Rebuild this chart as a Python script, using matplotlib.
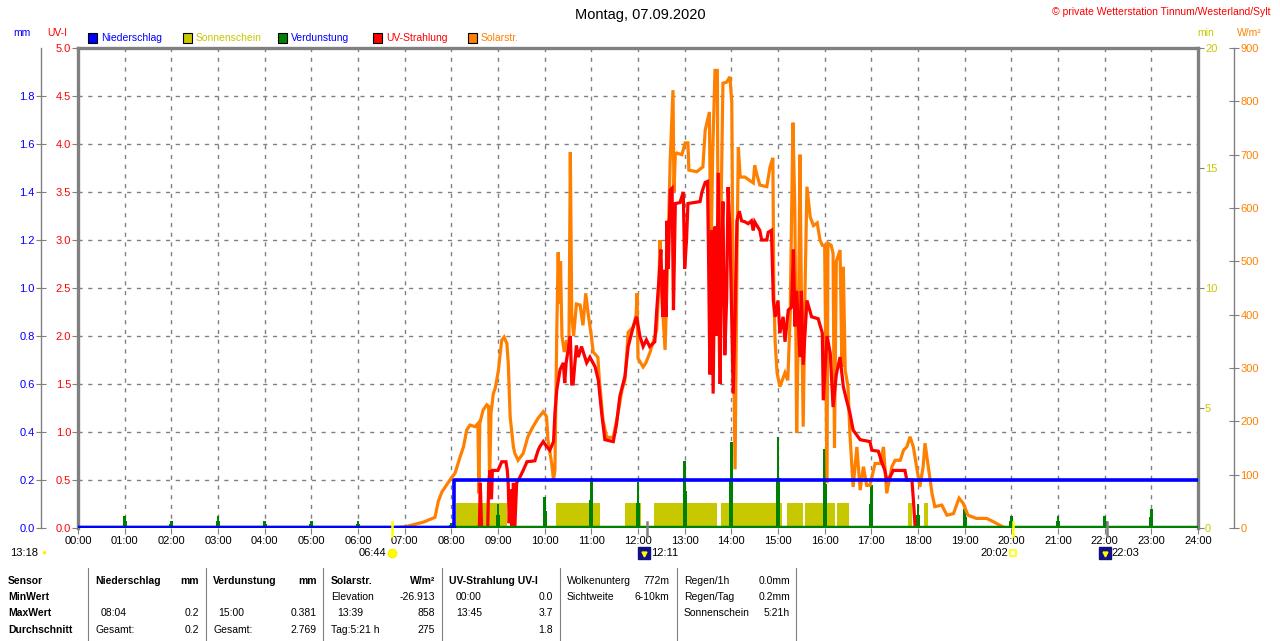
import numpy as np
import matplotlib
matplotlib.use("Agg")
import matplotlib.pyplot as plt
from matplotlib.patches import Rectangle
from matplotlib.lines import Line2D
import matplotlib.transforms as mtransforms

plt.rcParams['font.family'] = ['Liberation Sans', 'DejaVu Sans']

# ---------------- data ----------------
hour_labels = ["%02d:00" % h for h in range(25)]

solar_t = [0, 6.69, 7.0, 7.40, 7.65, 7.72, 7.8, 7.97, 8.08, 8.19, 8.26, 8.33, 8.40, 8.51, 8.57, 8.59, 8.61,
           8.68, 8.76, 8.80, 8.82, 8.85, 8.90, 8.94, 8.97, 9.01, 9.04, 9.08, 9.13, 9.19, 9.22, 9.26, 9.29,
           9.33, 9.36, 9.43, 9.54, 9.64, 9.75, 9.86, 9.97, 10.04, 10.07, 10.15, 10.19, 10.22, 10.26, 10.29,
           10.31, 10.34, 10.37, 10.42, 10.47, 10.52, 10.55, 10.58, 10.62, 10.68, 10.76, 10.82, 10.88, 10.93,
           11.0, 11.04, 11.14, 11.17, 11.25, 11.33, 11.47, 11.57, 11.66, 11.72, 11.79, 11.90, 11.96, 11.98,
           12.0, 12.11, 12.17, 12.26, 12.40, 12.45, 12.47, 12.52, 12.58, 12.63, 12.69, 12.75, 12.77, 12.80,
           12.83, 12.94, 13.01, 13.07, 13.09, 13.26, 13.39, 13.44, 13.53, 13.56, 13.60, 13.65, 13.70, 13.72,
           13.75, 13.78, 13.82, 13.90, 13.97, 14.01, 14.04, 14.08, 14.12, 14.15, 14.19, 14.29, 14.47, 14.50,
           14.55, 14.61, 14.76, 14.83, 14.89, 14.91, 14.94, 14.98, 15.04, 15.15, 15.21, 15.26, 15.32, 15.36,
           15.40, 15.44, 15.47, 15.50, 15.54, 15.58, 15.62, 15.69, 15.76, 15.84, 15.90, 15.95, 16.0, 16.05,
           16.07, 16.14, 16.18, 16.21, 16.25, 16.33, 16.37, 16.40, 16.44, 16.50, 16.54, 16.61, 16.69, 16.76,
           16.83, 16.90, 16.97, 17.08, 17.19, 17.26, 17.33, 17.44, 17.51, 17.62, 17.69, 17.76, 17.83, 17.90,
           17.97, 18.04, 18.11, 18.15, 18.22, 18.30, 18.36, 18.51, 18.62, 18.76, 18.88, 18.97, 19.07, 19.25,
           19.47, 19.61, 19.82, 19.9, 24]
solar_w = [0, 0, 2, 11, 20, 50, 68, 90, 103, 134, 152, 184, 193, 190, 196, 65, 196,
           221, 231, 228, 84, 215, 252, 262, 277, 296, 321, 352, 358, 346, 309, 209, 184,
           152, 140, 127, 140, 171, 190, 206, 218, 209, 165, 121, 90, 109, 371, 517,
           420, 500, 360, 330, 352, 340, 705, 400, 360, 420, 418, 380, 440, 403,
           360, 330, 320, 280, 202, 170, 170, 215, 260, 277, 367, 377, 400, 440,
           318, 302, 310, 330, 371, 460, 540, 420, 334, 480, 690, 821, 630, 700,
           703, 700, 722, 722, 671, 668, 677, 746, 780, 480, 700, 858, 858, 450,
           300, 600, 834, 836, 846, 797, 400, 110, 500, 714, 658, 658, 647, 680,
           662, 643, 640, 677, 694, 440, 347, 291, 265, 291, 277, 396, 760, 600,
           178, 400, 700, 450, 190, 450, 640, 583, 567, 572, 540, 530, 530, 84,
           534, 530, 515, 150, 500, 521, 302, 490, 296, 265, 178, 77, 152, 71,
           115, 80, 80, 121, 121, 152, 65, 115, 127, 127, 146, 152, 171, 152,
           115, 77, 115, 159, 115, 65, 40, 43, 24, 27, 56, 46, 24, 18,
           18, 12, 2, 0, 0]

uv_t = [0, 8.60, 8.62, 8.65, 8.78, 8.80, 8.83, 8.86, 8.88, 9.0, 9.08, 9.17, 9.20, 9.22, 9.24, 9.27, 9.30,
        9.33, 9.36, 9.40, 9.47, 9.54, 9.62, 9.79, 9.86, 9.90, 9.97, 10.04, 10.11, 10.19, 10.22, 10.26,
        10.33, 10.40, 10.43, 10.46, 10.50, 10.55, 10.58, 10.61, 10.68, 10.72, 10.79, 10.90, 10.97, 11.08,
        11.15, 11.22, 11.29, 11.47, 11.54, 11.61, 11.72, 11.79, 11.90, 11.97, 12.04, 12.11, 12.18, 12.25,
        12.36, 12.40, 12.45, 12.49, 12.53, 12.57, 12.60, 12.62, 12.65, 12.69, 12.73, 12.76, 12.80, 12.90,
        12.97, 13.0, 13.04, 13.07, 13.33, 13.37, 13.44, 13.49, 13.51, 13.54, 13.58, 13.61, 13.65, 13.68,
        13.72, 13.76, 13.79, 13.82, 13.86, 13.90, 13.93, 13.97, 14.0, 14.04, 14.08, 14.12, 14.17, 14.22,
        14.29, 14.36, 14.43, 14.47, 14.50, 14.61, 14.65, 14.76, 14.79, 14.86, 14.90, 14.94, 15.0, 15.04,
        15.11, 15.15, 15.22, 15.29, 15.33, 15.36, 15.40, 15.47, 15.50, 15.54, 15.62, 15.72, 15.86, 15.95,
        15.97, 16.05, 16.12, 16.18, 16.25, 16.33, 16.40, 16.47, 16.54, 16.61, 16.76, 16.97, 17.01, 17.15,
        17.22, 17.29, 17.33, 17.40, 17.47, 17.72, 17.76, 17.87, 17.90, 17.94, 24]
uv_i = [0, 0, 0.47, 0, 0, 0.47, 0.6, 0.3, 0.6, 0.6, 0.69, 0.69, 0.6, 0.45, 0.05, 0.4, 0,
        0.47, 0, 0.47, 0.53, 0.6, 0.69, 0.7, 0.81, 0.85, 0.9, 0.85, 0.81, 0.9, 1.2, 1.44,
        1.65, 1.72, 1.51, 1.72, 1.85, 2.0, 1.5, 1.5, 1.9, 1.78, 1.89, 1.72, 1.78, 1.68,
        1.54, 1.2, 0.92, 0.9, 1.08, 1.37, 1.58, 1.89, 2.1, 2.2, 2.0, 1.89, 1.96, 1.89,
        1.94, 2.26, 2.6, 2.9, 2.2, 2.69, 2.2, 3.2, 2.7, 3.52, 3.54, 2.27, 3.38, 3.39,
        3.5, 2.7, 3.0, 3.38, 3.4, 3.5, 3.6, 3.61, 2.9, 1.6, 3.1, 1.4, 3.14, 2.0,
        3.7, 1.5, 2.9, 3.4, 1.8, 2.4, 3.55, 3.1, 2.4, 1.4, 2.2, 3.2, 3.3, 3.2,
        3.19, 3.17, 3.2, 3.1, 3.19, 3.1, 3.0, 3.0, 3.08, 3.1, 2.37, 2.2, 2.37, 2.03,
        2.2, 1.94, 2.27, 2.3, 2.9, 2.1, 2.47, 1.78, 2.47, 1.7, 2.37, 2.2, 2.18, 2.03,
        1.33, 2.0, 1.82, 1.26, 1.6, 1.78, 1.47, 1.33, 1.2, 1.02, 0.92, 0.9, 0.81, 0.8,
        0.69, 0.6, 0.5, 0.53, 0.6, 0.6, 0.5, 0.5, 0.3, 0, 0]

rain_t = [0, 8.067, 24]
rain_mm = [0, 0.2, 0.2]

evap_t = list(range(1, 24))
evap_mm = [0.05, 0.03, 0.05, 0.03, 0.03, 0.03, 0.0, 0.02, 0.10, 0.13, 0.21, 0.19, 0.28,
           0.36, 0.381, 0.33, 0.18, 0.10, 0.08, 0.05, 0.05, 0.05, 0.08]

sun_start = [8.10, 10.24, 11.72, 12.34, 13.78, 15.19, 15.58, 16.26, 17.79, 18.13]
sun_end = [9.19, 11.19, 12.06, 13.69, 15.09, 15.54, 16.22, 16.52, 17.87, 18.21]
sun_min = [1.05] * len(sun_start)

sunrise, noon, sunset, moonrise = 6.733, 12.183, 20.033, 22.05

# ---------------- colors ----------------
BLUE = '#0000ff'
OLIVE = '#c8c800'
GREEN = '#008000'
RED = '#ff0000'
ORANGE = '#ff8000'
GRAY = '#808080'

W, H = 1280, 641
fig = plt.figure(figsize=(W / 100, H / 100), dpi=100)
rect = [78 / W, 1 - 528 / H, 1120 / W, 480 / H]

def px(x, y):
    return x / W, 1 - y / H

# base axes: frame, grid, UV ticks, x ticks
ax = fig.add_axes(rect, zorder=0)
ax.set_xlim(0, 24)
ax.set_ylim(0, 5)
ax.set_xticks(range(25))
ax.set_xticklabels(hour_labels)
ax.set_yticks(np.arange(0, 5.01, 0.5))
ax.set_yticklabels(["%.1f" % v for v in np.arange(0, 5.01, 0.5)])
ax.grid(True, color=GRAY, linestyle=(0, (3, 4)), linewidth=1)
for s in ['left', 'top', 'right']:
    ax.spines[s].set_color(GRAY)
    ax.spines[s].set_linewidth(2.4)
ax.spines['bottom'].set_visible(False)
ax.tick_params(axis='x', direction='out', length=4, color=GRAY, labelsize=8, pad=2, labelcolor='black')
ax.tick_params(axis='y', direction='out', length=4, color=GRAY, labelsize=8, pad=1, labelcolor=RED)

def overlay(z, sharey=None):
    a = fig.add_axes(rect, sharex=ax, sharey=sharey, zorder=z)
    a.patch.set_visible(False)
    for s in a.spines.values():
        s.set_visible(False)
    a.tick_params(bottom=False, labelbottom=False, left=False, labelleft=False,
                  right=False, labelright=False, top=False, labeltop=False)
    a.grid(False)
    return a

# sunshine (min)
ax_sun = overlay(1)
ax_sun.set_ylim(0, 20)
widths = [e - s for s, e in zip(sun_start, sun_end)]
ax_sun.bar(sun_start, sun_min, width=widths, align='edge', color=OLIVE, linewidth=0)
ax_sun.yaxis.set_label_position('right')
ax_sun.yaxis.tick_right()
ax_sun.set_yticks([0, 5, 10, 15, 20])
ax_sun.tick_params(axis='y', right=True, labelright=True, direction='out', length=4,
                   color=GRAY, labelsize=8, pad=1, labelcolor=OLIVE)

# evaporation (mm)
ax_ev = overlay(2)
ax_ev.set_ylim(0, 2)
ax_ev.bar(evap_t, evap_mm, width=0.055, color=GREEN, linewidth=0)
ax_ev.bar(evap_t, [v * 0.55 for v in evap_mm], width=0.09, color=GREEN, linewidth=0)

# solar (W/m2)
ax_w = overlay(3)
ax_w.set_ylim(0, 900)
ax_w.plot(solar_t, solar_w, color=ORANGE, linewidth=2.3, solid_joinstyle='miter')
ax_w.yaxis.tick_right()
ax_w.spines['right'].set_visible(True)
ax_w.spines['right'].set_position(('axes', (1234 - 78) / 1120))
ax_w.spines['right'].set_color(GRAY)
ax_w.spines['right'].set_linewidth(1)
ax_w.set_yticks(range(0, 901, 100))
ax_w.tick_params(axis='y', right=True, labelright=True, direction='inout', length=7,
                 color=GRAY, labelsize=8, pad=1, labelcolor=ORANGE)

# UV
ax_uv = overlay(4, sharey=ax)
ax_uv.plot(uv_t, uv_i, color=RED, linewidth=2.3, solid_joinstyle='miter')

# precipitation (mm) + baseline
ax_mm = overlay(5)
ax_mm.set_ylim(0, 2)
ax_mm.axhline(0, color=GREEN, linewidth=3.2)
ax_mm.plot(rain_t, rain_mm, color=BLUE, linewidth=2.6, drawstyle='steps-post')
ax_mm.plot([rain_t[0], rain_t[1]], [rain_mm[0], rain_mm[0]], color=BLUE, linewidth=3.2)
ax_mm.spines['left'].set_visible(True)
ax_mm.spines['left'].set_position(('axes', (41 - 78) / 1120))
ax_mm.spines['left'].set_color(GRAY)
ax_mm.spines['left'].set_linewidth(1)
ax_mm.set_yticks(np.arange(0, 1.81, 0.2))
ax_mm.set_yticklabels(["%.1f" % v for v in np.arange(0, 1.81, 0.2)])
ax_mm.tick_params(axis='y', left=True, labelleft=True, direction='inout', length=7,
                  color=GRAY, labelsize=8, pad=1, labelcolor=BLUE)

# sun / moon markers on the time axis
trans = mtransforms.blended_transform_factory(ax.transData, ax.transAxes)
for xm, c in [(sunrise, '#ffff00'), (noon, GRAY), (sunset, '#ffff00'), (moonrise, GRAY)]:
    ax_mm.add_line(Line2D([xm, xm], [-0.017, 0.012], transform=trans, color=c,
                          linewidth=1.8, clip_on=False))
ym = -0.052
ax_mm.plot([sunrise], [ym], 'o', transform=trans, color='#ffff00', markersize=6,
           markeredgecolor='#ffee00', clip_on=False)
ax_mm.plot([sunset], [ym], 's', transform=trans, color='white', markersize=5,
           markeredgecolor='#ffff00', markeredgewidth=1.2, clip_on=False)
for xm in (noon, moonrise):
    ax_mm.plot([xm - 0.05], [ym], 's', transform=trans, color='#101080', markersize=8,
               clip_on=False)
    ax_mm.plot([xm - 0.05], [ym - 0.003], 'v', transform=trans, color='#ffff00', markersize=3.5,
               clip_on=False)

fs = 8
fig.text(*px(38, 553), "13:18", ha='right', va='center', fontsize=fs)
fig.text(*px(44, 553), "\u25cf", ha='center', va='center', fontsize=6, color='#ffee00')
fig.text(*px(386, 553), "06:44", ha='right', va='center', fontsize=fs)
fig.text(*px(651, 553), "12:11", ha='left', va='center', fontsize=fs)
fig.text(*px(1008, 553), "20:02", ha='right', va='center', fontsize=fs)
fig.text(*px(1111, 553), "22:03", ha='left', va='center', fontsize=fs)

# title and header texts
fig.text(*px(640, 15), "Montag, 07.09.2020", ha='center', va='center', fontsize=10.5)
fig.text(*px(1271, 12), "\u00a9 private Wetterstation Tinnum/Westerland/Sylt", ha='right',
         va='center', fontsize=7.5, color=RED)
fig.text(*px(22, 33), "mm", ha='center', va='center', fontsize=7.5, color=BLUE)
fig.text(*px(57, 33), "UV-I", ha='center', va='center', fontsize=7.5, color=RED)
fig.text(*px(1206, 33), "min", ha='center', va='center', fontsize=7.5, color=OLIVE)
fig.text(*px(1249, 33), "W/m\u00b2", ha='center', va='center', fontsize=7.5, color=ORANGE)

# legend
legend_items = [("Niederschlag", BLUE, BLUE, 88), ("Sonnenschein", OLIVE, OLIVE, 183),
                ("Verdunstung", GREEN, BLUE, 278), ("UV-Strahlung", RED, RED, 373),
                ("Solarstr.", ORANGE, ORANGE, 468)]
for label, fc, tc, x0 in legend_items:
    fig.add_artist(Rectangle(px(x0, 42.5), 9 / W, 9 / H, transform=fig.transFigure,
                             facecolor=fc, edgecolor='black', linewidth=0.8))
    fig.text(*px(x0 + 13, 38), label, ha='left', va='center', fontsize=7.5, color=tc)

# statistics table
for xs in [88, 206, 323, 442, 560, 677, 796]:
    fig.add_artist(Line2D([xs / W, xs / W], [1 - 568 / H, 0], transform=fig.transFigure,
                          color=GRAY, linewidth=0.8))
rows = [581, 597, 613, 630]
tfs = 7.5
def T(x, r, s, ha='left', bold=False):
    fig.text(*px(x, rows[r]), s, ha=ha, va='center', fontsize=tfs,
             fontweight='bold' if bold else 'normal')

for r, s in enumerate(["Sensor", "MinWert", "MaxWert", "Durchschnitt"]):
    T(8, r, s, bold=True)
T(95, 0, "Niederschlag", bold=True); T(199, 0, "mm", ha='right', bold=True)
T(213, 0, "Verdunstung", bold=True); T(317, 0, "mm", ha='right', bold=True)
T(331, 0, "Solarstr.", bold=True); T(435, 0, "W/m\u00b2", ha='right', bold=True)
T(449, 0, "UV-Strahlung UV-I", bold=True)
T(567, 0, "Wolkenunterg"); T(669, 0, "772m", ha='right')
T(684, 0, "Regen/1h"); T(790, 0, "0.0mm", ha='right')

T(331, 1, "Elevation"); T(435, 1, "-26.913", ha='right')
T(456, 1, "00:00"); T(553, 1, "0.0", ha='right')
T(567, 1, "Sichtweite"); T(669, 1, "6-10km", ha='right')
T(684, 1, "Regen/Tag"); T(790, 1, "0.2mm", ha='right')

T(101, 2, "08:04"); T(199, 2, "0.2", ha='right')
T(218, 2, "15:00"); T(317, 2, "0.381", ha='right')
T(337, 2, "13:39"); T(435, 2, "858", ha='right')
T(456, 2, "13:45"); T(553, 2, "3.7", ha='right')
T(684, 2, "Sonnenschein"); T(790, 2, "5:21h", ha='right')

T(95, 3, "Gesamt:"); T(199, 3, "0.2", ha='right')
T(213, 3, "Gesamt:"); T(317, 3, "2.769", ha='right')
T(331, 3, "Tag:5:21 h"); T(435, 3, "275", ha='right')
T(553, 3, "1.8", ha='right')

fig.savefig("out.png", dpi=100)
